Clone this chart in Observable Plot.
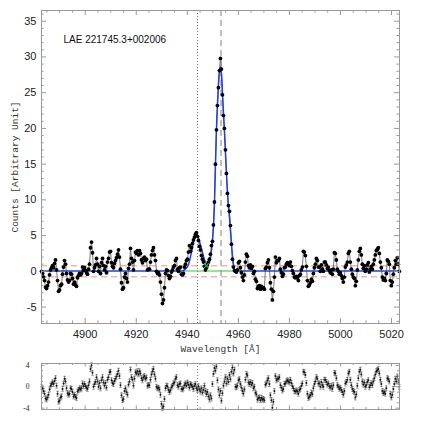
<!DOCTYPE html>
<html><head><meta charset="utf-8">
<script src="https://cdn.jsdelivr.net/npm/d3@7"></script>
<script src="https://cdn.jsdelivr.net/npm/@observablehq/plot@0.6"></script>
<style>
html,body{margin:0;padding:0;background:#fff;}
#wrap{position:relative;width:436px;height:436px;overflow:hidden;background:#fff;}
#main{position:absolute;left:0;top:0;}
#resid{position:absolute;left:0;top:355px;}
</style></head><body>
<div id="wrap"><div id="main"></div><div id="resid"></div></div>
<script>
// ---------- data ----------
const title = "LAE 221745.3+002006";
const xLabel = "Wavelength [Å]";
const yLabel = "Counts [Arbitrary Unit]";
const lambdaStart = 4882.9;
const lambdaStep = 0.3915;
const xTicks = [4900, 4920, 4940, 4960, 4980, 5000, 5020];
const yTicks = [-5, 0, 5, 10, 15, 20, 25, 30, 35];
const residTicks = [-4, 0, 4];
const flux = [
 0, -0.3, -0.8, -1.3, -2.2, -2.4, -2.0, -1.5, -0.5, 0.2, 0.5, 0.8, 0.5, 1.1,
 1.6, 0.2, -1.3, -2.8, -2.6, -2.0, -1.8, -0.4, 0.6,
 1.5, 1.0, -0.3, -1.2, -1.5, -1.3, -0.3, -0.4, -1.0,
 -1.8, -1.5, -1.9, -2.1, -0.9, -0.6,
 -0.3, -0.5, -0.3, 0.6, 0.1, 0.5, 0.1, -0.2,
 -0.4, 0.3, 1.0, 3.3, 4.1, 2.6, 0.0, 0.5, 0.9, 1.8, 1.0, 0.0, 0.7, -0.3, 1.2, 1.8,
 0.8, 0.2, 0.7, -0.2, 1.3, 1.8, 2.7, 2.8, 1.2, 0.7, 0.5, 1.1, 1.5, 1.9, 2.4, 3.0, 2.0, 0.3, -1.6, -2.5, -2.3, -0.8, -0.3, -1.0,
 -1.5, 0.4, 1.0, 3.2, 1.8, 1.3, 0.2, 1.5, 2.7, 2.5, 2.9, 2.3, 2.9, 2.5, 1.6, 1.2, 1.8, 2.0, 1.5, 1.7,
 0.2, 0.3, 0.3, 1.3, 2.3, 2.9, 3.3, 2.3, 1.5, 0.0, -0.3, -0.2, -0.5, -1.5, -3.2, -4.5, -4.0, -2.3, -0.3, 0.2, 0.1, -0.6, -1.0, -0.7, -0.1, 0.2,
 0.6, 0.8, 1.5, 1.8, 0.3, 0.0, 0.5, 0.6, -0.4, -0.5, -0.3,
 0.6, 1.0, 1.5, 1.7, 2.7, 3.6, 2.8, 3.3, 3.9, 4.4, 4.8, 5.2, 5.4, 4.9, 4.3, 3.5, 3.0, 2.2, 1.7, 1.3, 0.7, 0.2, 0.5, 0.9, 1.3, 1.7, 2.4, 3.6, 4.2, 6.5,
 9.7,
 15.0, 19.8, 23.2, 25.7, 28.1, 29.8, 28.3, 24.7, 21.8, 20.0, 17.0, 13.7, 10.9, 9.2, 8.4, 6.4, 3.8, 1.7, 0.6, 0.1,
 0.0, -0.1, 0.2, 1.2, 1.4, 0.5, -0.2, -0.8, -1.3, -0.5, 1.3, 2.4, 2.1, 0.8, 0.5, 0.9, 0.4, 0.7, -0.3, 0.0,
 -1.1, -1.4, -2.4, -2.1, -2.0, -2.5, -2.1, -2.4, -2.3, -2.5, 0.4, 0.6, 1.2, 1.6, 0.5, -1.6, -2.5, -4.0, -2.8, -0.8,
 2.0, 1.2, 1.5, 1.5, 1.8, 0.3, -0.2, -0.7, -0.4, 0.5, 0.6, 1.0, 1.2, 1.0, 0.8, 1.3, 0.7, 0.1, -0.3, -0.8,
 -0.9, -0.7, -0.9, -1.3, -0.6, -0.4, 0.2, 0.6, 2.8, 2.7, 2.2, 0.7, -1.3, -2.1, -1.9, -1.6, -1.1, -1.4, -0.3, 0.5,
 1.0, 1.8, 1.5, 0.6, 0.6, 0.0, 0.9, 0.3, 0.0, 1.3, 1.3, 0.9, 0.4, 0.6, 0.1, -0.2, 0.2, -0.4, 0.3, 2.6,
 2.5, 1.6, 0.3, 0.0, -0.4, -0.2, -0.6, -1.0, -1.5, -0.8, 0.6, 0.9, 1.3, 2.5, 2.8, 1.3, 0.3, -0.4, -0.8, -1.0,
 -2.0, -1.4, 0.2, 1.6, 2.8, 3.2, 2.3, 1.0, 0.4, 0.8, 0.0, 0.3, 0.9, 1.2, -0.1, 0.3, 0.7, 0.3, 1.0, 1.6,
 2.3, 2.9, 3.1, 3.3, 2.5, 1.3, 0.5, -0.8, -1.2, -1.0, -1.3, -0.3, 1.6, 1.4, 1.0, -1.3, -2.0, -1.5, -0.4, 0.5,
 1.5, 1.0, 1.9, 1.0, 0.0
];
const residual = [
 0, -0.3, -0.8, -1.3, -2.2, -2.4, -2.0, -1.5, -0.5, 0.2, 0.5, 0.8, 0.5, 1.1,
 1.6, 0.2, -1.3, -2.8, -2.6, -2.0, -1.8, -0.4, 0.6,
 1.5, 1.0, -0.3, -1.2, -1.5, -1.3, -0.3, -0.4, -1.0,
 -1.8, -1.5, -1.9, -2.1, -0.9, -0.6,
 -0.3, -0.5, -0.3, 0.6, 0.1, 0.5, 0.1, -0.2,
 -0.4, 0.3, 1.0, 3.3, 4.0, 2.6, 0.0, 0.5, 0.9, 1.8, 1.0, 0.0, 0.7, -0.3, 1.2, 1.8,
 0.8, 0.2, 0.7, -0.2, 1.3, 1.8, 2.7, 2.8, 1.2, 0.7, 0.5, 1.1, 1.5, 1.9, 2.4, 3.0, 2.0, 0.3, -1.6, -2.5, -2.3, -0.8, -0.3, -1.0,
 -1.5, 0.4, 1.0, 3.2, 1.8, 1.3, 0.2, 1.5, 2.7, 2.5, 2.9, 2.3, 2.9, 2.5, 1.6, 1.2, 1.8, 2.0, 1.5, 1.7,
 0.2, 0.3, 0.3, 1.3, 2.3, 2.9, 3.3, 2.3, 1.5, 0.0, -0.3, -0.2, -0.5, -1.5, -3.2, -4.0, -3.7, -2.3, -0.3, 0.2, 0.1, -0.6, -1.0, -0.7, -0.1, 0.2,
 0.6, 0.8, 1.5, 1.8, 0.3, 0.0, 0.5, 0.6, -0.4, -0.5, -0.3,
 0.3, 0.6, 0.2, 0.8, 0.4, -0.2, 0.5, 0.3,
 0.0, -0.4, 0.2, 0.5, -0.3, -0.6, 0.1, -0.5,
 -0.9, -0.3, -1.1, -0.6, 0.2, -0.8, -1.4, -1.0,
 -1.8, -2.4, -1.6, -2.2, 0.5, 2.4, 3.5, 3.0,
 3.8, 1.2, -0.5, -1.6, -0.8, -2.6, -1.2, 0.2,
 1.0, 1.8, 0.6, 1.5, 0.9, 2.2, 1.4, 2.8,
 3.6, 2.5, 3.2,
 0.0, -0.1, 0.2, 1.2, 1.4, 0.5, -0.2, -0.8, -1.3, -0.5, 1.3, 2.4, 2.1, 0.8, 0.5, 0.9, 0.4, 0.7, -0.3, 0.0,
 -1.1, -1.4, -2.4, -2.1, -2.0, -2.5, -2.1, -2.4, -2.3, -2.5, 0.4, 0.6, 1.2, 1.6, 0.5, -1.6, -2.5, -3.9, -2.8, -0.8,
 2.0, 1.2, 1.5, 1.5, 1.8, 0.3, -0.2, -0.7, -0.4, 0.5, 0.6, 1.0, 1.2, 1.0, 0.8, 1.3, 0.7, 0.1, -0.3, -0.8,
 -0.9, -0.7, -0.9, -1.3, -0.6, -0.4, 0.2, 0.6, 2.8, 2.7, 2.2, 0.7, -1.3, -2.1, -1.9, -1.6, -1.1, -1.4, -0.3, 0.5,
 1.0, 1.8, 1.5, 0.6, 0.6, 0.0, 0.9, 0.3, 0.0, 1.3, 1.3, 0.9, 0.4, 0.6, 0.1, -0.2, 0.2, -0.4, 0.3, 2.6,
 2.5, 1.6, 0.3, 0.0, -0.4, -0.2, -0.6, -1.0, -1.5, -0.8, 0.6, 0.9, 1.3, 2.5, 2.8, 1.3, 0.3, -0.4, -0.8, -1.0,
 -2.0, -1.4, 0.2, 1.6, 2.8, 3.2, 2.3, 1.0, 0.4, 0.8, 0.0, 0.3, 0.9, 1.2, -0.1, 0.3, 0.7, 0.3, 1.0, 1.6,
 2.3, 2.9, 3.1, 3.3, 2.5, 1.3, 0.5, -0.8, -1.2, -1.0, -1.3, -0.3, 1.6, 1.4, 1.0, -1.3, -2.0, -1.5, -0.4, 0.5,
 1.5, 1.0, 1.9, 1.0, 0.0
];
const residualError = 0.45;
const modelLambda = [4882.9, 4937.8, 4938.5, 4939.5, 4940.5, 4941.6, 4942.5, 4943.2, 4943.8, 4944.4, 4945.06, 4945.7,
 4946.4, 4947.0, 4947.7, 4948.3, 4949.0, 4949.6, 4950.24, 4950.63, 4951.02, 4951.41, 4951.81, 4952.2, 4952.59, 4952.98,
 4953.37, 4953.77, 4954.16, 4954.55, 4954.94, 4955.33, 4955.72, 4956.11, 4956.5, 4956.9, 4957.29, 4957.68, 4958.07,
 4958.46, 4959.0, 4960.0, 5023.1];
const modelFlux = [0.05, 0.05, 0.1, 0.4, 1.0, 2.6, 4.2, 4.8, 5.05, 4.7, 3.8, 3.0,
 2.0, 1.4, 1.05, 1.1, 1.7, 3.4, 6.2, 9.4, 14.8, 19.7, 23.4, 26.2, 28.0, 28.6,
 27.6, 25.0, 22.2, 19.6, 16.6, 13.8, 11.2, 9.2, 7.6, 5.8, 3.9, 2.2, 1.0,
 0.4, 0.12, 0.05, 0.05];
const sigmaLevels = [0.77, -0.77];
const fitRange = [4938.5, 4958.0];
const fitBase = 0.05;
const markerLambda = 4947.5;
const markerFlux = 0.8;
const blueLineCenter = 4944.0;
const mainLineCenter = 4953.2;
const xDomain = [4882.88, 5023.13];
const yDomain = [-7.3, 36.5];
const residDomain = [-4.25, 4.35];

// ---------- drawing ----------
const W = 436, mL = 41, mR = 37;
const frameW = W - mL - mR;
const axisColor = "#999";
const sans = "'Liberation Sans', Arial, Helvetica, sans-serif";
const mono = "'Liberation Mono', 'Courier New', monospace";
const serif = "'Liberation Serif', 'Times New Roman', serif";

const pts = flux.map((v, i) => ({x: lambdaStart + i * lambdaStep, y: v}));
const res = residual.map((v, i) => ({x: lambdaStart + i * lambdaStep, y: v}));
const model = modelLambda.map((x, i) => ({x, y: modelFlux[i]}));

function frameTicks(xMajor, xMinor, yMajor, yMinor, fh, majLen, minLen) {
  const s = {stroke: axisColor, strokeWidth: 1};
  return [
    Plot.tickX(xMajor, {x: d => d, insetTop: fh - majLen, ...s}),
    Plot.tickX(xMajor, {x: d => d, insetBottom: fh - majLen, ...s}),
    Plot.tickX(xMinor, {x: d => d, insetTop: fh - minLen, ...s}),
    Plot.tickX(xMinor, {x: d => d, insetBottom: fh - minLen, ...s}),
    Plot.tickY(yMajor, {y: d => d, insetRight: frameW - majLen, ...s}),
    Plot.tickY(yMajor, {y: d => d, insetLeft: frameW - majLen, ...s}),
    Plot.tickY(yMinor, {y: d => d, insetRight: frameW - minLen, ...s}),
    Plot.tickY(yMinor, {y: d => d, insetLeft: frameW - minLen, ...s})
  ];
}
const xMinor = d3.range(4885, 5021, 5).filter(v => v % 20 !== 0);

// main panel
const mainH = 355, mT = 10, mB = 32;
const frameH = mainH - mT - mB;
const yMinor = d3.range(-7, 37).filter(v => v % 5 !== 0);
const yMid = (yDomain[0] + yDomain[1]) / 2;
const mainPlot = Plot.plot({
  width: W, height: mainH,
  marginTop: mT, marginBottom: mB, marginLeft: mL, marginRight: mR,
  x: {domain: xDomain},
  y: {domain: yDomain},
  style: {fontFamily: sans, color: "#222", background: "white", overflow: "visible"},
  marks: [
    Plot.ruleY(sigmaLevels, {stroke: "#f08c8c", strokeDasharray: "6,4", strokeWidth: 1}),
    Plot.ruleX([blueLineCenter], {stroke: "#777", strokeDasharray: "1,2", strokeWidth: 1}),
    Plot.ruleX([mainLineCenter], {stroke: "#b0b0b0", strokeDasharray: "6,4", strokeWidth: 1.6}),
    Plot.ruleY([fitBase], {x1: fitRange[0], x2: fitRange[1], stroke: "#2ccc2c", strokeWidth: 1.2}),
    Plot.line(pts, {x: "x", y: "y", stroke: "#7a7a7a", strokeWidth: 1}),
    Plot.line(model, {x: "x", y: "y", stroke: "#2040e0", strokeWidth: 1.5, curve: "monotone-x"}),
    Plot.dot(pts, {x: "x", y: "y", r: 1.9, fill: "#000", stroke: "none"}),
    Plot.dot([[markerLambda, markerFlux]], {x: d => d[0], y: d => d[1], symbol: "times", r: 2.2, stroke: "#22bb22", strokeWidth: 1.2}),
    Plot.frame({stroke: axisColor, strokeWidth: 1}),
    ...frameTicks(xTicks, xMinor, yTicks, yMinor, frameH, 5, 2.6),
    Plot.axisX(xTicks, {anchor: "bottom", tickSize: 0, tickPadding: 7, fontSize: 11, label: null, tickFormat: d => String(d), fill: "#222"}),
    Plot.axisY(yTicks, {anchor: "left", tickSize: 0, tickPadding: 5, fontSize: 11, label: null, tickFormat: d => String(d), fill: "#222"}),
    Plot.text([title], {frameAnchor: "top-left", dx: 22, dy: 29, textAnchor: "start", lineAnchor: "middle", fontSize: 10, fill: "#111"}),
    Plot.text([xLabel], {frameAnchor: "bottom", dy: 25, lineAnchor: "middle", fontSize: 9.5, fontFamily: mono, fill: "#333"}),
    Plot.text([yLabel], {frameAnchor: "left", y: () => yMid, dx: -27, rotate: -90, textAnchor: "middle", lineAnchor: "middle", fontSize: 9.5, fontFamily: mono, fill: "#333"})
  ]
});
document.getElementById("main").append(mainPlot);

// residual panel
const rH = 81, rT = 8, rB = 27;
const rFrameH = rH - rT - rB;
const rMinor = [-3, -2, -1, 1, 2, 3];
const residPlot = Plot.plot({
  width: W, height: rH,
  marginTop: rT, marginBottom: rB, marginLeft: mL, marginRight: mR,
  x: {domain: xDomain, axis: null},
  y: {domain: residDomain},
  style: {fontFamily: serif, color: "#222", background: "white", overflow: "visible"},
  marks: [
    Plot.ruleX([blueLineCenter], {stroke: "#888", strokeDasharray: "1,2", strokeWidth: 1}),
    Plot.ruleX([mainLineCenter], {stroke: "#bbb", strokeDasharray: "1,2", strokeWidth: 1}),
    Plot.ruleX(res, {x: "x", y1: d => d.y - residualError, y2: d => d.y + residualError, stroke: "#777", strokeWidth: 0.8}),
    Plot.link(res, {x1: d => d.x - 0.45, x2: d => d.x + 0.45, y1: d => d.y + residualError, y2: d => d.y + residualError, stroke: "#666", strokeWidth: 0.8}),
    Plot.link(res, {x1: d => d.x - 0.45, x2: d => d.x + 0.45, y1: d => d.y - residualError, y2: d => d.y - residualError, stroke: "#666", strokeWidth: 0.8}),
    Plot.dot(res, {x: "x", y: "y", r: 1, fill: "#111", stroke: "none"}),
    Plot.frame({stroke: axisColor, strokeWidth: 1}),
    ...frameTicks(xTicks, xMinor, residTicks, rMinor, rFrameH, 3.5, 2),
    Plot.axisY(residTicks, {anchor: "left", tickSize: 0, tickPadding: 12, fontSize: 7.5, label: null, fill: "#222", tickFormat: d => String(d)})
  ]
});
document.getElementById("resid").append(residPlot);
</script>
</body></html>
